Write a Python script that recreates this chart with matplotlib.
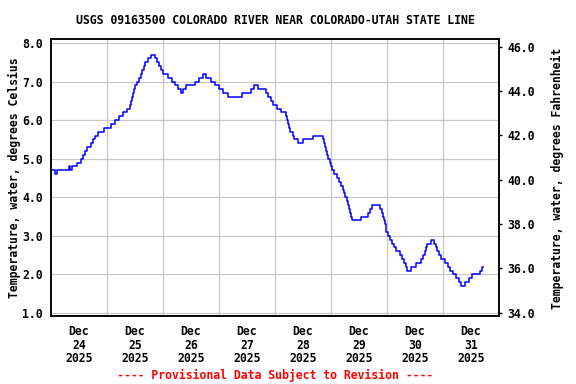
import datetime as dt

import matplotlib
matplotlib.use("Agg")
import matplotlib.pyplot as plt
import matplotlib.dates as mdates
from matplotlib.ticker import FixedLocator, FormatStrFormatter

# water temperature readings, as (hours after 2025-12-24 00:00, deg C) change points
START = dt.datetime(2025, 12, 24)
hours = [
    0.0, 1.7, 2.6, 7.7, 8.1, 9.0, 11.1, 12.9, 13.7, 14.6, 15.4, 17.1, 18.0, 18.9,
    20.1, 22.7, 25.7, 27.4, 29.1, 30.9, 32.6, 33.9, 34.3, 34.7, 35.1, 35.6, 36.0,
    36.9, 37.7, 38.6, 39.0, 39.9, 40.3, 41.6, 42.9, 44.6, 45.4, 46.3, 47.1, 48.0,
    50.1, 51.9, 53.1, 54.4, 55.7, 56.6, 57.9, 61.7, 63.4, 65.1, 66.4, 68.6, 70.3,
    72.0, 73.7, 75.9, 81.9, 85.7, 87.0, 88.7, 92.1, 93.0, 94.3, 95.1, 96.9, 98.6,
    100.7, 101.1, 101.6, 102.0, 102.4, 103.7, 104.1, 105.9, 108.0, 112.3, 116.6,
    117.0, 117.4, 117.9, 118.3, 118.9, 119.4, 119.9, 120.4, 121.3, 122.6, 123.4,
    124.3, 125.1, 125.6, 126.0, 126.9, 127.3, 127.7, 128.1, 128.6, 128.9, 132.9,
    135.9, 136.7, 137.6, 141.0, 141.9, 142.3, 142.7, 143.1, 143.6, 144.4, 145.3,
    146.2, 147.0, 147.9, 149.6, 150.4, 151.3, 152.1, 152.6, 154.3, 156.4, 158.6,
    159.4, 160.3, 160.7, 161.1, 162.9, 164.1, 165.0, 165.4, 166.3, 167.1, 168.9,
    170.2, 171.0, 172.3, 173.6, 174.9, 175.7, 177.4, 179.1, 180.4, 183.9, 184.7,
    185.1,
]
temps_c = [
    4.7, 4.6, 4.7, 4.8, 4.7, 4.8, 4.9, 5.0, 5.1, 5.2, 5.3, 5.4, 5.5, 5.6,
    5.7, 5.8, 5.9, 6.0, 6.1, 6.2, 6.3, 6.4, 6.5, 6.6, 6.7, 6.8, 6.9,
    7.0, 7.1, 7.2, 7.3, 7.4, 7.5, 7.6, 7.7, 7.6, 7.5, 7.4, 7.3, 7.2,
    7.1, 7.0, 6.9, 6.8, 6.7, 6.8, 6.9, 7.0, 7.1, 7.2, 7.1, 7.0, 6.9,
    6.8, 6.7, 6.6, 6.7, 6.8, 6.9, 6.8, 6.7, 6.6, 6.5, 6.4, 6.3, 6.2,
    6.1, 6.0, 5.9, 5.8, 5.7, 5.6, 5.5, 5.4, 5.5, 5.6, 5.5,
    5.4, 5.3, 5.2, 5.1, 5.0, 4.9, 4.8, 4.7, 4.6, 4.5, 4.4,
    4.3, 4.2, 4.1, 4.0, 3.9, 3.8, 3.7, 3.6, 3.5, 3.4, 3.5,
    3.6, 3.7, 3.8, 3.7, 3.6, 3.5, 3.4, 3.3, 3.1, 3.0, 2.9,
    2.8, 2.7, 2.6, 2.5, 2.4, 2.3, 2.2, 2.1, 2.2, 2.3, 2.4,
    2.5, 2.6, 2.7, 2.8, 2.9, 2.8, 2.7, 2.6, 2.5, 2.4, 2.3,
    2.2, 2.1, 2.0, 1.9, 1.8, 1.7, 1.8, 1.9, 2.0, 2.1, 2.2,
    2.2,
]

day_labels = ["Dec\n24\n2025", "Dec\n25\n2025", "Dec\n26\n2025", "Dec\n27\n2025",
              "Dec\n28\n2025", "Dec\n29\n2025", "Dec\n30\n2025", "Dec\n31\n2025"]
c_ticks = [1.0, 2.0, 3.0, 4.0, 5.0, 6.0, 7.0, 8.0]
f_ticks = [34.0, 36.0, 38.0, 40.0, 42.0, 44.0, 46.0]

TITLE = "USGS 09163500 COLORADO RIVER NEAR COLORADO-UTAH STATE LINE"
FONT = "DejaVu Sans Mono"
FS = 8.3

plt.rcParams["font.family"] = FONT
plt.rcParams["font.weight"] = "bold"
plt.rcParams["axes.labelweight"] = "bold"

times = [START + dt.timedelta(hours=h) for h in hours]

fig = plt.figure(figsize=(5.76, 3.84), dpi=100)
ax = fig.add_axes([51 / 576, 1 - 316 / 384, 448 / 576, 277 / 384])

ax.step(times, temps_c, where="post", color="#0000ff", lw=1.1, zorder=3)

ax.set_xlim(START, START + dt.timedelta(days=8))
ax.set_ylim(0.922, 8.104)

midnights = [mdates.date2num(START + dt.timedelta(days=d)) for d in range(1, 8)]
noons = [mdates.date2num(START + dt.timedelta(days=d, hours=12)) for d in range(8)]
ax.xaxis.set_major_locator(FixedLocator(midnights))
ax.xaxis.set_major_formatter(plt.NullFormatter())
ax.xaxis.set_minor_locator(FixedLocator(noons))
ax.set_xticklabels(day_labels, minor=True)
ax.tick_params(axis="x", which="both", length=0)
ax.tick_params(axis="x", which="minor", pad=6.5, labelsize=FS)
for lab in ax.get_xticklabels(minor=True):
    lab.set_linespacing(1.05)

ax.yaxis.set_major_locator(FixedLocator(c_ticks))
ax.yaxis.set_major_formatter(FormatStrFormatter("%.1f"))
ax.tick_params(axis="y", length=0, pad=6, labelsize=FS)
ax.grid(True, which="major", color="#c8c8c8", lw=0.9, zorder=1)
for sp in ax.spines.values():
    sp.set_linewidth(1.1)

# axis titles placed in figure coordinates so they sit where the reference has them
fig.text(14 / 576, 1 - 178 / 384, "Temperature, water, degrees Celsius",
         rotation=90, ha="center", va="center", fontsize=FS, fontweight="bold")
fig.text(557 / 576, 1 - 178 / 384, "Temperature, water, degrees Fahrenheit",
         rotation=90, ha="center", va="center", fontsize=FS, fontweight="bold")

ax2 = ax.twinx()
ax2.set_ylim(33.85, 46.35)
ax2.yaxis.set_major_locator(FixedLocator(f_ticks))
ax2.yaxis.set_major_formatter(FormatStrFormatter("%.1f"))
ax2.tick_params(axis="y", length=2.5, width=1, direction="out", pad=3.5, labelsize=FS)
for sp in ax2.spines.values():
    sp.set_linewidth(1.1)

fig.text(275 / 576, 1 - 20 / 384, TITLE, ha="center", va="center", fontsize=FS)
fig.text(275 / 576, 1 - 375 / 384, "---- Provisional Data Subject to Revision ----",
         ha="center", va="center", fontsize=FS, color="#ff0000")

fig.savefig("out.png", dpi=100)
